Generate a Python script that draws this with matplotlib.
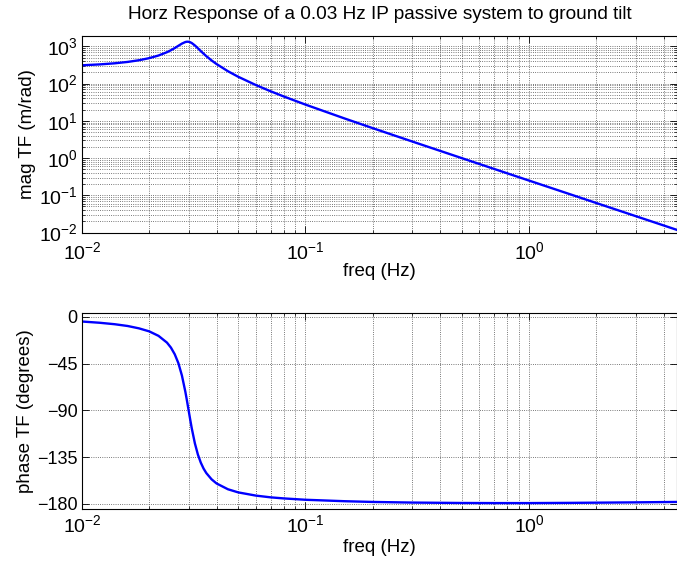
import matplotlib
matplotlib.use("Agg")
import matplotlib.pyplot as plt
from matplotlib.ticker import LogLocator, NullFormatter, FixedLocator

# values
freq = [0.01, 0.012, 0.014, 0.016, 0.018, 0.02, 0.022, 0.024, 0.025, 0.026,
        0.027, 0.028, 0.029, 0.0295, 0.03, 0.0305, 0.031, 0.032, 0.033, 0.034,
        0.035, 0.036, 0.038, 0.04, 0.045, 0.05, 0.06, 0.07, 0.08, 0.1,
        0.15, 0.2, 0.3, 0.5, 0.7, 1.0, 1.5, 2.0, 3.0, 4.58]
mag = [309.6, 327.0, 350.1, 381.1, 423.3, 482.0, 567.0, 695.7, 785.3, 897.6,
       1033.9, 1183.1, 1303.2, 1330.1, 1324.8, 1287.0, 1222.9, 1055.6, 887.9, 746.6,
       634.1, 545.4, 418.5, 334.2, 214.2, 152.4, 91.13, 61.73, 44.98, 27.23,
       11.49, 6.350, 2.787, 0.9971, 0.5079, 0.2486, 0.1105, 0.06211, 0.02760, 0.01184]
phase = [-4.5, -5.7, -7.1, -8.8, -11.1, -14.0, -18.3, -24.8, -29.6, -36.0,
         -44.6, -56.5, -72.0, -80.8, -90.0, -99.0, -107.5, -121.8, -132.5, -140.3,
         -146.1, -150.4, -156.4, -160.4, -166.0, -169.0, -172.1, -173.8, -174.8, -176.1,
         -177.5, -178.2, -178.8, -179.2, -179.3, -179.3, -179.1, -178.9, -178.6, -178.2]

title = 'Horz Response of a 0.03 Hz IP passive system to ground tilt'
phase_ticks = [-180, -135, -90, -45, 0]

plt.rcParams['font.family'] = ['Liberation Sans', 'DejaVu Sans']
plt.rcParams['mathtext.fontset'] = 'custom'
plt.rcParams['mathtext.rm'] = 'Liberation Sans'
plt.rcParams['mathtext.it'] = 'Liberation Sans'

fig = plt.figure(figsize=(6.77, 5.63), dpi=100)
ax1 = fig.add_axes([0.1211, 0.587, 0.8784, 0.3499])
ax2 = fig.add_axes([0.1211, 0.0959, 0.8784, 0.3487])

ax1.loglog(freq, mag, color=(0, 0, 1), lw=1.7)
ax1.set_xlim(0.01, 4.58)
ax1.set_ylim(1e-2, 1.95e3)
ax1.yaxis.set_major_locator(LogLocator(base=10, numticks=20))
ax1.yaxis.set_minor_locator(LogLocator(base=10, subs=range(2, 10), numticks=20))
ax1.yaxis.set_minor_formatter(NullFormatter())
ax1.set_ylabel('mag TF (m/rad)', fontsize=13.5, labelpad=2)
ax1.set_title(title, fontsize=13.7, pad=12)
ax1.tick_params(axis='y', labelsize=14, pad=3)

ax2.semilogx(freq, phase, color=(0, 0, 1), lw=1.7)
ax2.set_xlim(0.01, 4.58)
ax2.set_ylim(-185, 4)
ax2.yaxis.set_major_locator(FixedLocator(phase_ticks))
ax2.set_ylabel('phase TF (degrees)', fontsize=13.5, labelpad=2)
ax2.tick_params(axis='y', labelsize=13, pad=3)

for ax in (ax1, ax2):
    ax.xaxis.set_major_locator(LogLocator(base=10, numticks=20))
    ax.xaxis.set_minor_locator(LogLocator(base=10, subs=range(2, 10), numticks=20))
    ax.xaxis.set_minor_formatter(NullFormatter())
    ax.tick_params(which='both', direction='in', top=True, right=True)
    ax.tick_params(which='major', length=5, width=0.6)
    ax.tick_params(which='minor', length=2.5, width=0.5)
    ax.tick_params(axis='x', labelsize=14, pad=4)
    for s in ax.spines.values():
        s.set_linewidth(0.8)
    ax.grid(True, which='major', linestyle=':', color='0.3', lw=0.6)
    ax.grid(True, which='minor', axis='x', linestyle=':', color='0.3', lw=0.6)
ax1.grid(True, which='minor', axis='y', linestyle=':', color='0.3', lw=0.6)
ax1.tick_params(axis='x', pad=6)
ax1.set_xlabel('freq (Hz)', fontsize=13.5, labelpad=0)
ax2.set_xlabel('freq (Hz)', fontsize=13.5, labelpad=2)

fig.savefig('out.png', dpi=100)
